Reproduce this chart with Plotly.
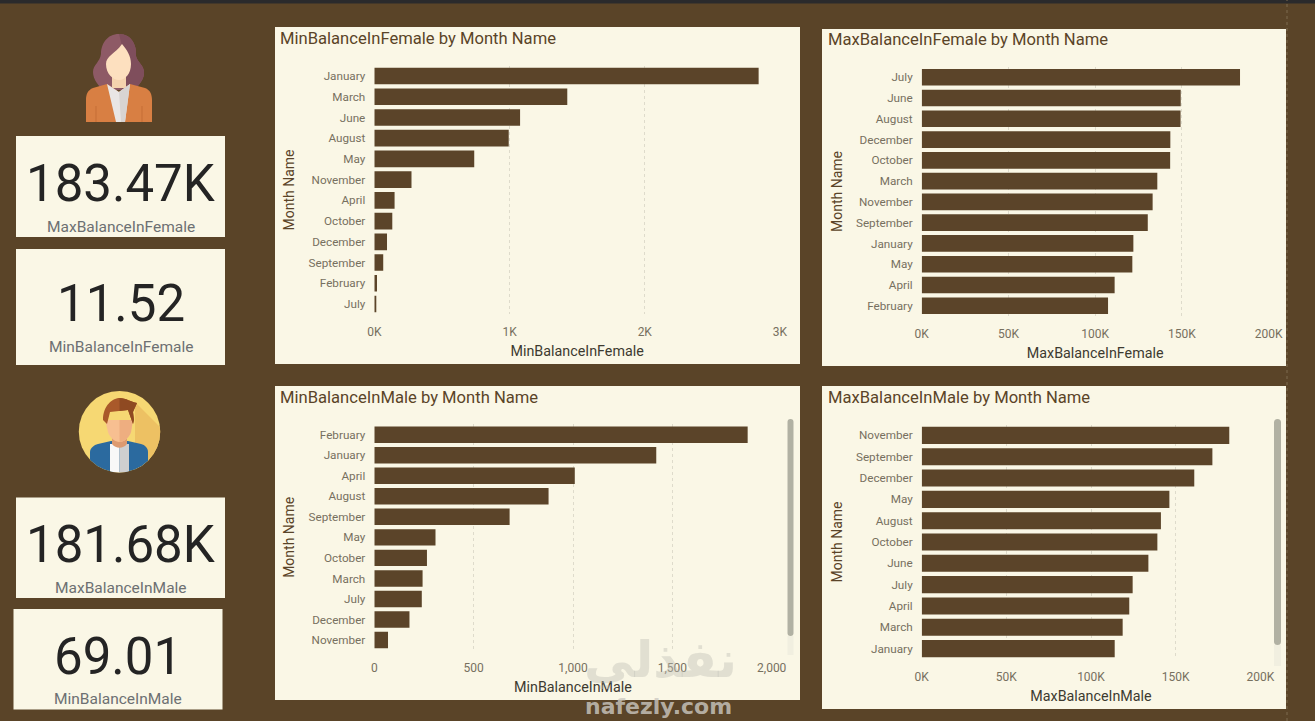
import base64
import plotly.graph_objects as go

W, H = 1315, 721
BG = "#5a4428"
PANEL = "#faf7e6"
BAR = "#5b4429"
FONT = "Roboto"

# ---- data ----
min_female_months = ["January", "March", "June", "August", "May", "November", "April", "October", "December", "September", "February", "July"]
min_female_values = [2842, 1427, 1078, 994, 739, 275, 150, 133, 94, 66, 20, 11.52]
min_female_ticks = [0, 1000, 2000, 3000]
min_female_ticktext = ["0K", "1K", "2K", "3K"]

max_female_months = ["July", "June", "August", "December", "October", "March", "November", "September", "January", "May", "April", "February"]
max_female_values = [183470, 149300, 149200, 143300, 143200, 135800, 133100, 130300, 122000, 121400, 111200, 107400]
max_female_ticks = [0, 50000, 100000, 150000, 200000]
max_female_ticktext = ["0K", "50K", "100K", "150K", "200K"]

min_male_months = ["February", "January", "April", "August", "September", "May", "October", "March", "July", "December", "November"]
min_male_values = [1879, 1419, 1009, 877, 681, 308, 265, 243, 239, 177, 69.01]
min_male_ticks = [0, 500, 1000, 1500, 2000]
min_male_ticktext = ["0", "500", "1,000", "1,500", "2,000"]

max_male_months = ["November", "September", "December", "May", "August", "October", "June", "July", "April", "March", "January"]
max_male_values = [181680, 171700, 161000, 146300, 141300, 139200, 133900, 124600, 122600, 118700, 114000]
max_male_ticks = [0, 50000, 100000, 150000, 200000]
max_male_ticktext = ["0K", "50K", "100K", "150K", "200K"]


def px(x):
    return x / W


def py(y):
    return 1 - y / H


charts = [
    dict(title="MinBalanceInFemale by Month Name", measure="MinBalanceInFemale", months=min_female_months,
         values=min_female_values, ticks=min_female_ticks, ticktext=min_female_ticktext,
         panel=(275, 27, 800, 364), plot=(374.3, 65.6, 780, 314.4), rng=3000, title_xy=(278, 38.5)),
    dict(title="MaxBalanceInFemale by Month Name", measure="MaxBalanceInFemale", months=max_female_months,
         values=max_female_values, ticks=max_female_ticks, ticktext=max_female_ticktext,
         panel=(822, 29, 1286, 366), plot=(921.7, 66.9, 1268.7, 316.1), rng=200000, title_xy=(825.5, 39.5)),
    dict(title="MinBalanceInMale by Month Name", measure="MinBalanceInMale", months=min_male_months,
         values=min_male_values, ticks=min_male_ticks, ticktext=min_male_ticktext,
         panel=(275, 386, 800, 700), plot=(374.3, 424.4, 771.7, 650.3), rng=2000, title_xy=(278, 397.5)),
    dict(title="MaxBalanceInMale by Month Name", measure="MaxBalanceInMale", months=max_male_months,
         values=max_male_values, ticks=max_male_ticks, ticktext=max_male_ticktext,
         panel=(822, 386, 1286, 709), plot=(921.7, 424.7, 1260.3, 659.3), rng=200000, title_xy=(825.5, 397.5)),
]

cards = [
    dict(box=(16, 136, 225, 237), value="183.47K", label="MaxBalanceInFemale", vy=183, ly=226.7),
    dict(box=(16, 249, 225, 365), value="11.52", label="MinBalanceInFemale", vy=303, ly=346.7),
    dict(box=(16, 497.5, 225, 598), value="181.68K", label="MaxBalanceInMale", vy=544, ly=588),
    dict(box=(13.5, 609, 222.5, 709.5), value="69.01", label="MinBalanceInMale", vy=656, ly=699.3),
]

fig = go.Figure()
shapes, annotations = [], []


def rect(x0, y0, x1, y1, color):
    shapes.append(dict(type="rect", xref="paper", yref="paper", x0=px(x0), x1=px(x1), y0=py(y0), y1=py(y1),
                       fillcolor=color, line=dict(width=0), layer="below"))


def text(x, y, s, size, color, anchor="center", **kw):
    annotations.append(dict(xref="paper", yref="paper", x=px(x), y=py(y), text=s, showarrow=False,
                            xanchor=anchor, yanchor="middle",
                            font=dict(family=kw.pop("family", FONT), size=size, color=color), **kw))


rect(0, 0, W, 3.5, "#2a2a2c")
shapes.append(dict(type="line", xref="paper", yref="paper", x0=px(1287), x1=px(1287), y0=0, y1=1,
                   line=dict(color="#7d6a4f", width=1, dash="dot"), layer="below"))

layout_axes = {}
for i, c in enumerate(charts):
    suffix = "" if i == 0 else str(i + 1)
    rect(*c["panel"], PANEL)
    x0, y0, x1, y1 = c["plot"]
    fig.add_trace(go.Bar(
        x=c["values"], y=c["months"], orientation="h", name=c["measure"],
        marker=dict(color=BAR, line=dict(width=0)),
        xaxis="x" + suffix, yaxis="y" + suffix, showlegend=False, hoverinfo="x+y",
    ))
    layout_axes["xaxis" + suffix] = dict(
        domain=[px(x0), px(x1)], range=[0, c["rng"]], anchor="y" + suffix, automargin=False,
        tickvals=c["ticks"], ticktext=c["ticktext"], ticks="", ticklabelstandoff=9,
        tickfont=dict(family=FONT, size=12, color="#77705f"),
        showgrid=True, gridcolor="#dedbcb", griddash="dot", gridwidth=1,
        zeroline=False, showline=False,
        title=dict(text=c["measure"], standoff=7, font=dict(family=FONT, size=14.3, color="#3d3a30")),
    )
    layout_axes["yaxis" + suffix] = dict(
        domain=[py(y1), py(y0)], anchor="x" + suffix, type="category", automargin=False,
        categoryorder="array", categoryarray=c["months"], autorange="reversed",
        ticks="", ticklabelstandoff=8,
        tickfont=dict(family=FONT, size=11.7, color="#77705f"),
        showgrid=False, zeroline=False, showline=False,
        title=dict(text="Month Name", standoff=10, font=dict(family=FONT, size=14, color=BG)),
    )
    text(c["title_xy"][0], c["title_xy"][1], c["title"], 16.6, BG, anchor="left")

for c in cards:
    rect(*c["box"], PANEL)
    cx = (c["box"][0] + c["box"][2]) / 2
    text(cx, c["vy"], c["value"], 51, "#242424")
    text(cx, c["ly"], c["label"], 15.5, "#6d7072")


def rounded_bar(x0, y0, x1, y1, color):
    r = (x1 - x0) / 2
    xm = (x0 + x1) / 2
    path = (f"M {px(x0)} {py(y0 + r)} Q {px(x0)} {py(y0)} {px(xm)} {py(y0)} Q {px(x1)} {py(y0)} {px(x1)} {py(y0 + r)} "
            f"L {px(x1)} {py(y1 - r)} Q {px(x1)} {py(y1)} {px(xm)} {py(y1)} Q {px(x0)} {py(y1)} {px(x0)} {py(y1 - r)} Z")
    shapes.append(dict(type="path", xref="paper", yref="paper", path=path, fillcolor=color, line=dict(width=0)))


rect(787.5, 636, 793.5, 655, "#f1efe0")
rounded_bar(787.5, 419, 793.5, 636, "#b1b1a3")
rect(1274, 645, 1281, 666, "#f1efe0")
rounded_bar(1274, 419, 1281, 645, "#b1b1a3")

woman_svg = """<svg xmlns='http://www.w3.org/2000/svg' viewBox='80 30 80 100' width='320' height='400'>
<path d='M119 34 C132 34 137 46 136 56 C137 62 145 66 144 74 C143 82 138 84 136 90 L102 90 C99 85 93 80 93 72 C93 65 100 62 101 54 C101 44 107 34 119 34 Z' fill='#8e5a66'/>
<path d='M119 34 C132 34 137 46 136 56 C137 62 145 66 144 74 C143 82 138 84 136 90 L122 90 L122 46 Z' fill='#7f4e5c'/>
<rect x='112' y='70' width='14' height='18' fill='#f5d3ae'/>
<path d='M122 44 C127 50 131 56 131 64 C131 74 125 80 119 80 C113 80 106 74 106 64 C106 56 115 54 122 44 Z' fill='#fde0bf'/>
<path d='M107 84 L93 88 C88 90 86 94 86 100 L86 122 L152 122 L152 100 C152 94 150 90 145 88 L130 84 L119 92 Z' fill='#d87f43'/>
<path d='M107 84 L119 92 L130 84 L125 122 L116 122 Z' fill='#e9e6e4'/>
<path d='M119 92 L130 84 L125 122 L121 122 Z' fill='#d8d4d2'/>
<path d='M96 106 L96 122 M142 106 L142 122' stroke='#c56f37' stroke-width='1'/>
</svg>"""

man_svg = """<svg xmlns='http://www.w3.org/2000/svg' viewBox='78 390 84 84' width='336' height='336'>
<defs><clipPath id='c'><circle cx='119.5' cy='431.7' r='40.7'/></clipPath></defs>
<circle cx='119.5' cy='431.7' r='40.7' fill='#f6d873'/>
<g clip-path='url(#c)'>
<path d='M135 402 L165 432 L165 480 L135 480 Z' fill='#edc163'/>
<path d='M90 472 L90 452 C90 448 94 445 98 444 L111 441 L128 441 L141 444 C145 445 148 448 148 452 L148 472 Z' fill='#2b6a9f'/>
<rect x='110' y='444' width='9.5' height='30' fill='#f8f8f8'/>
<rect x='119.5' y='444' width='9.5' height='30' fill='#cfcfcf'/>
<path d='M112 430 L127 430 L127 444 C123 449 116 449 112 444 Z' fill='#dd9a70'/>
<path d='M105 420 L133 420 L131 432 C129 438 124 442 119.5 442 C115 442 110 438 108 432 Z' fill='#f7bf91'/>
<path d='M119.5 420 L133 420 L131 432 C129 438 124 442 119.5 442 Z' fill='#eeae80'/>
<path d='M103 420 C103 405 113 398 120 398 C126 398 131 402 137 403 L133 412 L134 420 L133 424 L128 410 L110 412 L107 424 Z' fill='#a9592a'/>
<path d='M119.5 398 C126 398 131 402 137 403 L133 412 L134 420 L133 424 L128 410 L119.5 411 Z' fill='#8f4a22'/>
</g></svg>"""


def svg_uri(s):
    return "data:image/svg+xml;base64," + base64.b64encode(s.encode()).decode()


images = [
    dict(source=svg_uri(woman_svg), xref="paper", yref="paper", x=px(80), y=py(30), sizex=80 / W, sizey=100 / H,
         xanchor="left", yanchor="top", sizing="stretch", layer="above"),
    dict(source=svg_uri(man_svg), xref="paper", yref="paper", x=px(78), y=py(390), sizex=84 / W, sizey=84 / H,
         xanchor="left", yanchor="top", sizing="stretch", layer="above"),
]

# faint site stamp present over the reference
text(660, 660, "<b>نفذلي</b>", 50, "rgba(190,190,182,0.42)", family="DejaVu Sans")
text(658, 706, "<b>nafezly.com</b>", 22, "rgba(205,202,195,0.8)", family="DejaVu Sans")

fig.update_layout(
    width=W, height=H, margin=dict(l=0, r=0, t=0, b=0, autoexpand=False),
    paper_bgcolor=BG, plot_bgcolor="rgba(0,0,0,0)",
    bargap=0.2, font=dict(family=FONT),
    shapes=shapes, annotations=annotations, images=images,
    **layout_axes,
)

fig.write_html("out.html", config={"displayModeBar": False},
               post_script="document.body.style.margin='0';document.documentElement.style.overflow='hidden';document.body.style.background='%s';" % BG)
